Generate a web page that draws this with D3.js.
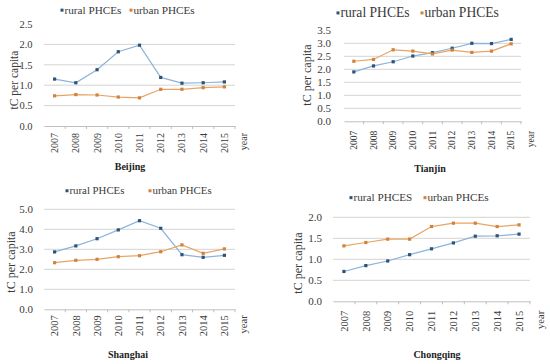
<!DOCTYPE html>
<html>
<head>
<meta charset="utf-8">
<script src="https://cdn.jsdelivr.net/npm/d3@7"></script>
<style>
  body { margin: 0; background: #fff; }
  svg text { font-family: "Liberation Serif", "Times New Roman", "DejaVu Serif", serif !important; }
</style>
</head>
<body>
<svg id="chart" width="550" height="364"></svg>
<script>
// data
var years = ["2007", "2008", "2009", "2010", "2011", "2012", "2013", "2014", "2015"];

var beijingRural = [1.15, 1.06, 1.38, 1.82, 1.98, 1.19, 1.05, 1.06, 1.08];
var beijingUrban = [0.74, 0.77, 0.76, 0.71, 0.69, 0.90, 0.90, 0.94, 0.96];
var beijingTicks = [0, 0.5, 1.0, 1.5, 2.0, 2.5];

var tianjinRural = [1.90, 2.13, 2.29, 2.51, 2.64, 2.81, 3.00, 2.99, 3.15];
var tianjinUrban = [2.31, 2.38, 2.75, 2.70, 2.59, 2.74, 2.65, 2.70, 2.98];
var tianjinTicks = [0, 0.5, 1.0, 1.5, 2.0, 2.5, 3.0, 3.5];

var shanghaiRural = [2.87, 3.17, 3.53, 3.97, 4.43, 4.05, 2.73, 2.60, 2.70];
var shanghaiUrban = [2.33, 2.45, 2.50, 2.63, 2.68, 2.88, 3.22, 2.80, 3.02];
var shanghaiTicks = [0, 1.0, 2.0, 3.0, 4.0, 5.0];

var chongqingRural = [0.71, 0.85, 0.96, 1.11, 1.25, 1.39, 1.55, 1.56, 1.60];
var chongqingUrban = [1.32, 1.40, 1.48, 1.48, 1.78, 1.86, 1.86, 1.78, 1.82];
var chongqingTicks = [0, 0.5, 1.0, 1.5, 2.0];

var ruralColor = "#8db3d9", ruralDot = "#2c5478";
var urbanColor = "#e6a566", urbanDot = "#d3823b";

var svg = d3.select("#chart");

// 每个小图的位置
var panels = [
  { name: "Beijing", rural: beijingRural, urban: beijingUrban, ticks: beijingTicks,
    x0: 44, x1: 235, yb: 126, yt: 24, gridMax: 2.0, tickSize: 10.5, yearSize: 10, yGap: 11.5, xGap: 7,
    legY: 13.5, legFont: 11.2, legX: [62, 131], ruralName: "rural PHCEs", ylSize: 11.5,
    ylX: 14, ylY: 80, yearX: 243, title: [130, 170] },
  { name: "Tianjin", rural: tianjinRural, urban: tianjinUrban, ticks: tianjinTicks,
    x0: 344, x1: 521, yb: 121.3, yt: 30.3, gridMax: 3.0, tickSize: 11, yearSize: 9.5, yGap: 13, xGap: 9.5,
    legY: 17, legFont: 13.6, legX: [338, 422], ruralName: "rural PHCEs", ylSize: 12,
    ylX: 307, ylY: 75, yearX: 531, title: [430, 172] },
  { name: "Shanghai", rural: shanghaiRural, urban: shanghaiUrban, ticks: shanghaiTicks,
    x0: 44, x1: 235, yb: 309.3, yt: 209.3, gridMax: 5.0, tickSize: 11, yearSize: 10.5, yGap: 11, xGap: 6,
    legY: 194, legFont: 10.8, legX: [67, 150], ruralName: "rural PHCEs", ylSize: 12,
    ylX: 11, ylY: 262, yearX: 243, title: [128, 358] },
  { name: "Chongqing", rural: chongqingRural, urban: chongqingUrban, ticks: chongqingTicks,
    x0: 333, x1: 530, yb: 301.3, yt: 217.3, gridMax: 2.0, tickSize: 11, yearSize: 10.5, yGap: 11, xGap: 9.5,
    legY: 201, legFont: 11.2, legX: [351, 425], ruralName: "rural PHCES", ylSize: 12,
    ylX: 298, ylY: 263, yearX: 540, title: [437, 358] }
];

var fmt = d3.format(".1f");

panels.forEach(function (p) {
  var g = svg.append("g");
  var x = d3.scaleBand().domain(years).range([p.x0, p.x1]);
  var yMax = p.ticks[p.ticks.length - 1];
  var y = d3.scaleLinear().domain([0, yMax]).range([p.yb, p.yt]);

  // 网格线
  g.append("g")
    .selectAll("line")
    .data(p.ticks.filter(d => d > 0 && d <= p.gridMax))
    .join("line")
    .attr("x1", p.x0).attr("x2", p.x1)
    .attr("y1", d => y(d)).attr("y2", d => y(d))
    .attr("stroke", "#d4d4d4").attr("stroke-width", 1);

  // y轴
  var yAxis = g.append("g")
    .attr("transform", "translate(" + (p.x0 - p.yGap) + ",0)")
    .call(d3.axisLeft(y).tickValues(p.ticks).tickFormat(fmt).tickSize(0).tickPadding(0));
  yAxis.select(".domain").remove();
  yAxis.selectAll("text").attr("font-size", p.tickSize).attr("fill", "#3a3a3a");

  // x轴
  var xAxis = g.append("g")
    .attr("transform", "translate(0," + p.yb + ")")
    .call(d3.axisBottom(x).tickSize(0));
  xAxis.select(".domain").attr("stroke", "#bfbfbf");
  xAxis.selectAll("text")
    .attr("font-size", p.yearSize).attr("fill", "#3a3a3a")
    .attr("transform", "rotate(-90)")
    .attr("text-anchor", "end")
    .attr("x", -p.xGap).attr("y", 0).attr("dy", "0.35em");

  // 小刻度
  g.append("g")
    .selectAll("line")
    .data(years.slice(1))
    .join("line")
    .attr("x1", d => x(d)).attr("x2", d => x(d))
    .attr("y1", p.yb).attr("y2", p.yb + 3)
    .attr("stroke", "#bfbfbf");
  g.append("line")
    .attr("x1", p.x1).attr("x2", p.x1)
    .attr("y1", p.yb).attr("y2", p.yb + 3)
    .attr("stroke", "#bfbfbf");

  g.append("text")
    .attr("transform", "translate(" + p.yearX + "," + (p.yb + p.xGap) + ") rotate(-90)")
    .attr("text-anchor", "end").attr("dy", "0.35em")
    .attr("font-size", p.yearSize).attr("fill", "#3a3a3a")
    .text("year");

  // y轴标题
  g.append("text")
    .attr("transform", "translate(" + p.ylX + "," + p.ylY + ") rotate(-90)")
    .attr("text-anchor", "middle").attr("dy", "0.35em")
    .attr("font-size", p.ylSize).attr("fill", "#3a3a3a")
    .text("tC per capita");

  // 折线
  var line = d3.line()
    .x((d, i) => x(years[i]) + x.bandwidth() / 2)
    .y(d => y(d));

  [[p.rural, ruralColor, ruralDot], [p.urban, urbanColor, urbanDot]].forEach(function (s) {
    g.append("path")
      .datum(s[0])
      .attr("d", line)
      .attr("fill", "none")
      .attr("stroke", s[1])
      .attr("stroke-width", 1.2);
    g.append("g")
      .selectAll("rect")
      .data(s[0])
      .join("rect")
      .attr("x", (d, i) => x(years[i]) + x.bandwidth() / 2 - 1.6)
      .attr("y", d => y(d) - 1.6)
      .attr("width", 3.2).attr("height", 3.2)
      .attr("fill", s[2]);
  });

  // 图例
  var leg = [[p.ruralName, ruralDot], ["urban PHCEs", urbanDot]];
  leg.forEach(function (l, i) {
    g.append("rect")
      .attr("x", p.legX[i] - 1.5).attr("y", p.legY - 1.5 - p.legFont * 0.3)
      .attr("width", 3).attr("height", 3)
      .attr("fill", l[1]);
    g.append("text")
      .attr("x", p.legX[i] + 2.5).attr("y", p.legY)
      .attr("font-size", p.legFont).attr("fill", "#3a3a3a")
      .text(l[0]);
  });

  // 城市名
  g.append("text")
    .attr("x", p.title[0]).attr("y", p.title[1])
    .attr("text-anchor", "middle")
    .attr("font-size", 10).attr("font-weight", "bold").attr("fill", "#222")
    .text(p.name);
});
</script>
</body>
</html>
